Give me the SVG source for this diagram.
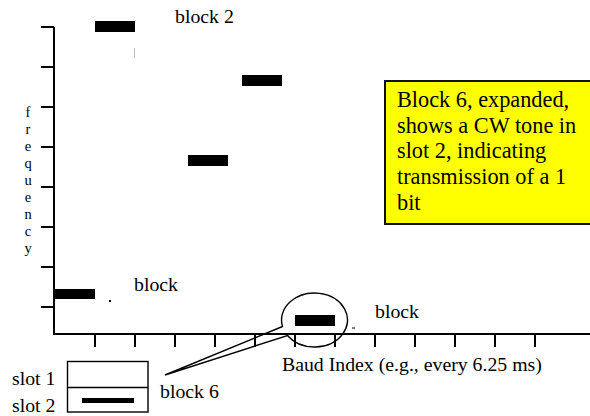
<svg xmlns="http://www.w3.org/2000/svg" width="590" height="416" viewBox="0 0 590 416" font-family="Times New Roman, Liberation Serif, Times, DejaVu Serif, serif">
<style>
text{font-family:'Times New Roman','Liberation Serif',Times,'DejaVu Serif',serif;fill:#000}
.lbl{font-size:19.8px}
.note{font-size:22.3px}
.freq{font-size:14.5px;text-anchor:middle}
.ax{stroke:#000;stroke-width:2;fill:none}
.bar{fill:#000}
.thin{stroke:#000;stroke-width:1.4;fill:none}
</style>
<rect width="590" height="416" fill="#fff"/>
<g id="axes">
<path class="ax" d="M54 27 V334 H590"/>
<path class="ax" d="M41 27H54M41 67H54M41 107H54M41 147H54M41 187H54M41 227H54M41 267H54M41 307H54"/>
<path class="ax" d="M95 334V347M135 334V347M175 334V347M215 334V347M255 334V347M295 334V347M335 334V347M375 334V347M415 334V347M455 334V347M495 334V347M535 334V347"/>
</g>
<g id="freq-label">
<text class="freq" x="28" y="117">f</text>
<text class="freq" x="28" y="134">r</text>
<text class="freq" x="28" y="151">e</text>
<text class="freq" x="28" y="168">q</text>
<text class="freq" x="28" y="185">u</text>
<text class="freq" x="28" y="202">e</text>
<text class="freq" x="28" y="219">n</text>
<text class="freq" x="28" y="236">c</text>
<text class="freq" x="28" y="253">y</text>
</g>
<g id="block2">
<rect class="bar" x="95" y="21" width="40" height="11"/>
<text class="lbl" x="175" y="23">block 2</text>
<line x1="134.5" y1="48" x2="134.5" y2="58" stroke="#bbb" stroke-width="1"/>
</g>
<g id="block3"><rect class="bar" x="242" y="75" width="40" height="11"/></g>
<g id="block4"><rect class="bar" x="188" y="155" width="40" height="11"/></g>
<g id="block1">
<rect class="bar" x="54" y="289" width="41" height="10"/>
<rect x="109" y="300" width="2" height="2" fill="#000"/>
<text class="lbl" x="134" y="291">block</text>
</g>
<g id="block6">
<rect class="bar" x="295" y="315" width="40" height="11"/>
<text class="lbl" x="375" y="318">block</text>
<line x1="352" y1="328" x2="355" y2="328" stroke="#000" stroke-width="1"/>
</g>
<g id="connectors">
<path class="thin" d="M165 375 L282.5 326.5 A33 27 0 1 1 287.5 335.5 Z"/>
</g>
<g id="x-label"><text class="lbl" x="282" y="371">Baud Index (e.g., every 6.25 ms)</text></g>
<g id="slots">
<rect class="thin" x="67.5" y="361.5" width="80.5" height="50.5"/>
<line class="thin" x1="67.5" y1="387.5" x2="148" y2="387.5"/>
<rect class="bar" x="82" y="398" width="52" height="5"/>
<text class="lbl" x="12" y="385">slot 1</text>
<text class="lbl" x="12" y="412">slot 2</text>
<text class="lbl" x="160" y="398">block 6</text>
</g>
<g id="note">
<rect x="385" y="81" width="210" height="143" fill="#ffff00" stroke="#111" stroke-width="2"/>
<text class="note" x="397" y="107">Block 6, expanded,</text>
<text class="note" x="397" y="133">shows a CW tone in</text>
<text class="note" x="397" y="158">slot 2, indicating</text>
<text class="note" x="397" y="184">transmission of a 1</text>
<text class="note" x="397" y="210">bit</text>
</g>
</svg>
